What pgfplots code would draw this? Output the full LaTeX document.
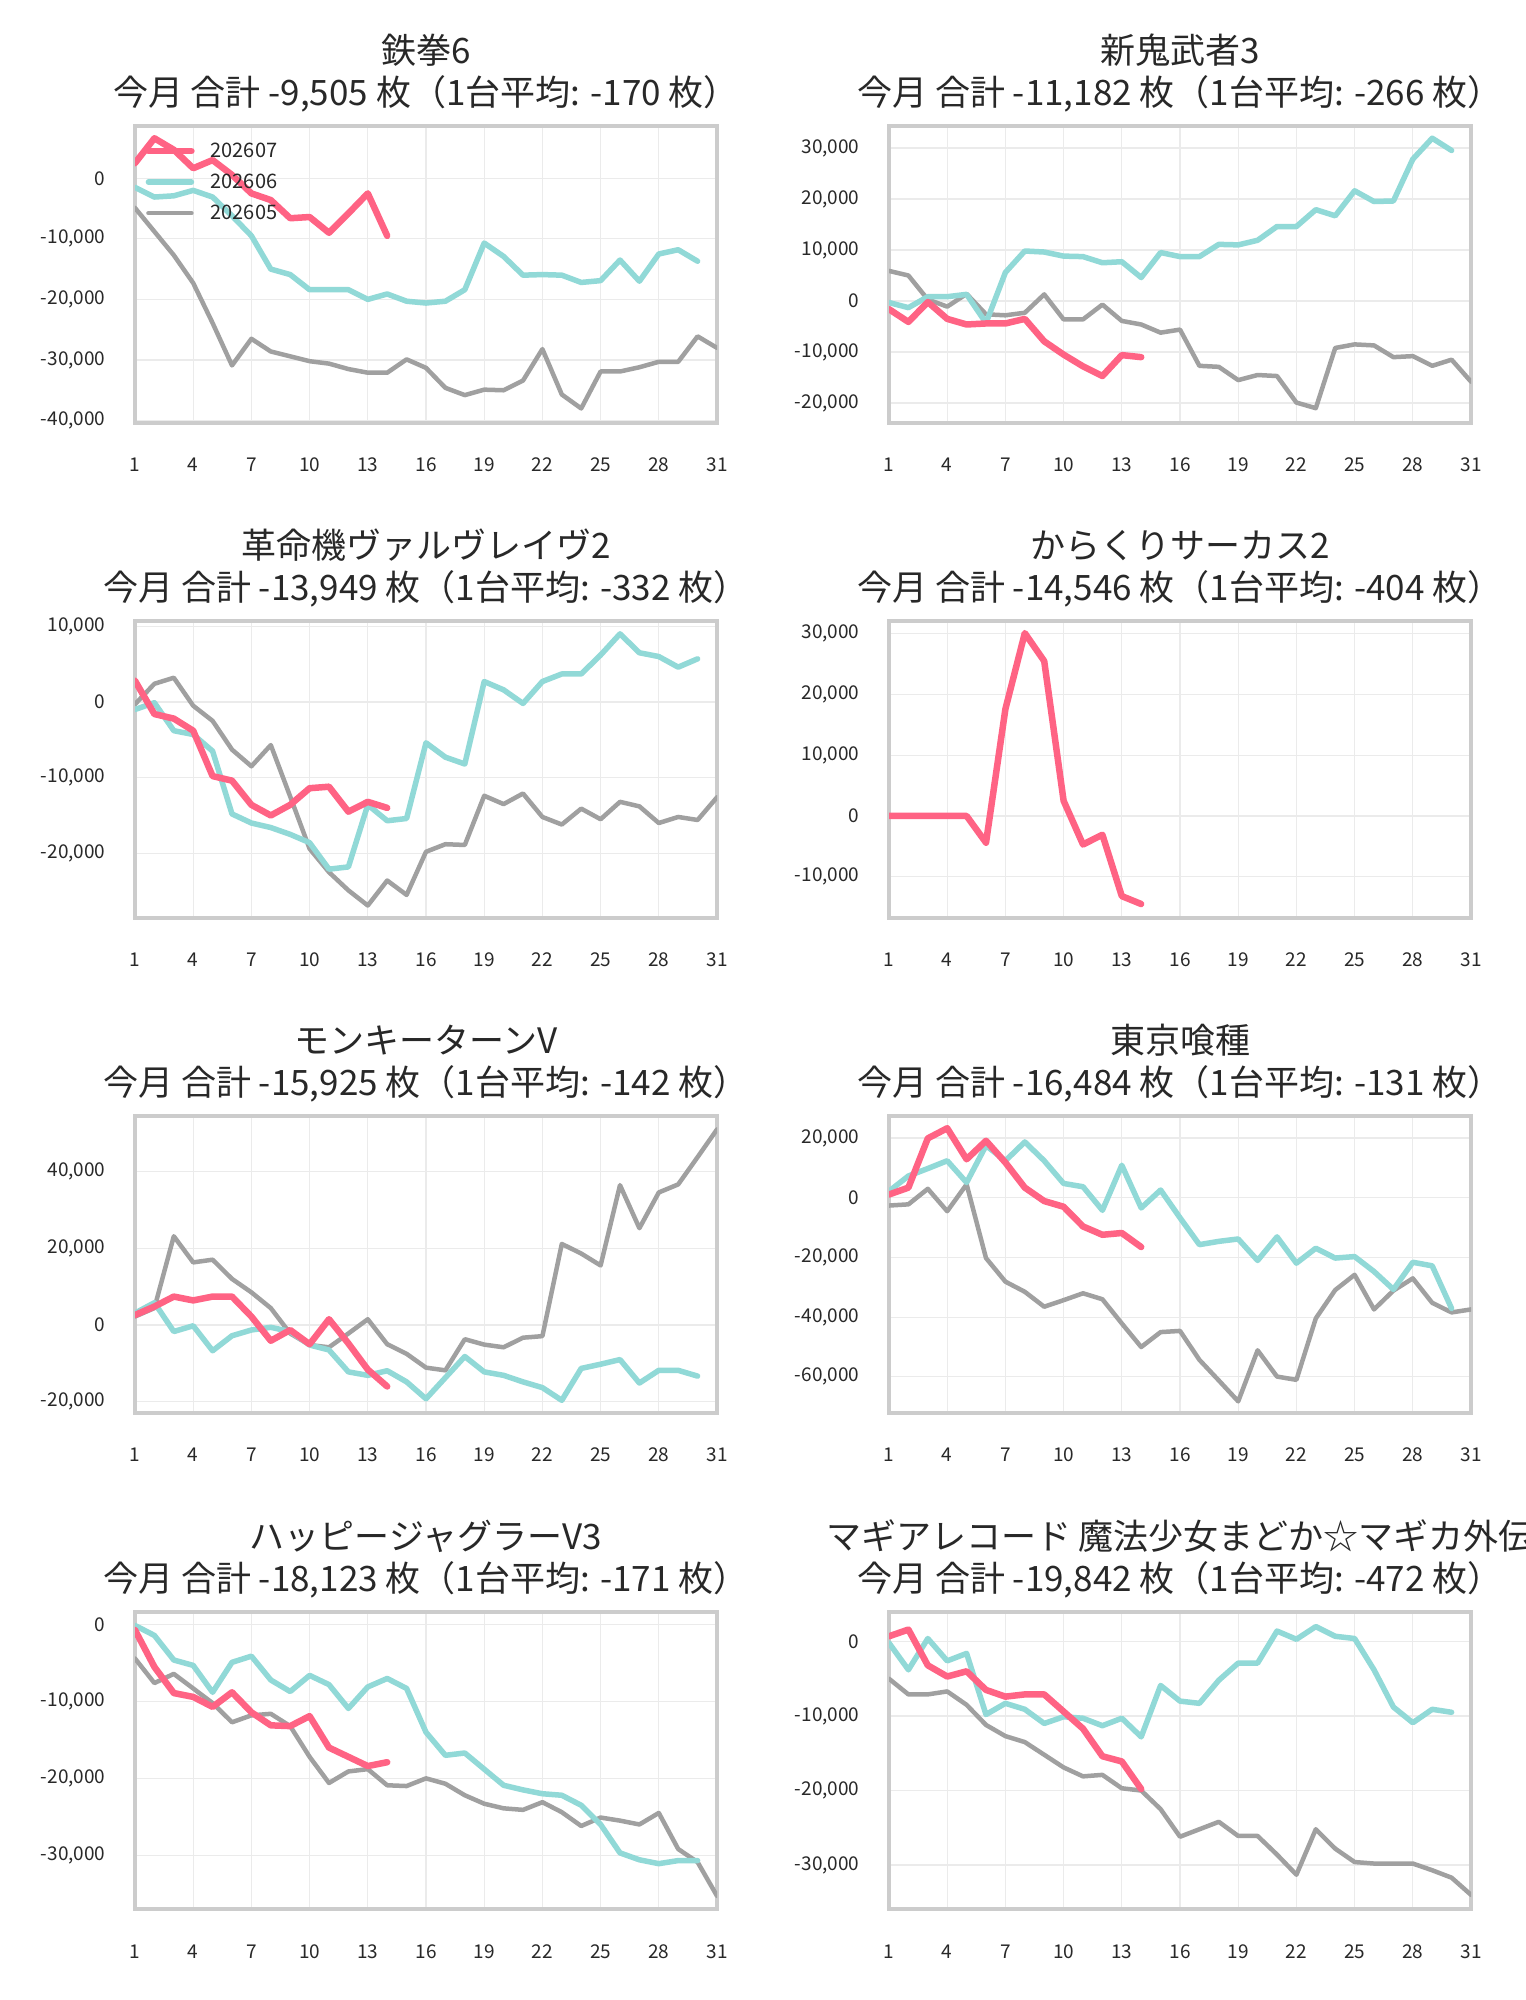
\documentclass[border=0pt]{standalone}
\usepackage{fontspec}
\setmainfont{Noto Sans CJK JP}
\usepackage{pgfplots}
\usepackage{pgfplotstable}
\pgfplotsset{compat=1.18}

\definecolor{cred}{RGB}{255,99,132}
\definecolor{cteal}{RGB}{145,217,215}
\definecolor{cgray}{RGB}{160,160,160}
\definecolor{ctext}{RGB}{40,40,40}

\newcommand\titlefont{\fontsize{35bp}{40bp}\selectfont}
\newcommand\tickfont{\fontsize{19bp}{23bp}\selectfont}
\newcommand\legfont{\fontsize{20bp}{24bp}\selectfont}

\pgfplotsset{
  s7/.style={cred, line width=6.5bp, line join=round, line cap=round},
  s6/.style={cteal, line width=5.5bp, line join=round, line cap=round},
  s5/.style={cgray, line width=4.5bp, line join=round, line cap=round},
  panel/.style={
    width=582bp, height=297bp, scale only axis,
    anchor=south west,
    xmin=1, xmax=31, xtick={1,4,...,31},
    grid=major, grid style={line width=1.2bp, draw=black!8},
    axis line style={line width=4bp, draw=black!20},
    major tick length=0pt,
    tick label style={font=\tickfont, text=ctext},
    /pgf/number format/assume math mode=true,
    /pgf/number format/1000 sep={,},
    scaled y ticks=false,
    yticklabel style={xshift=-26bp},
    xticklabel style={anchor=base, yshift=-49bp},
    clip mode=individual,
  },
}
\newcommand\ptitle[2]{%
  \node[anchor=base, font=\titlefont, text=ctext, yshift=62bp] at (rel axis cs:0.5,1) {#1};
  \node[anchor=base, font=\titlefont, text=ctext, yshift=20bp] at (rel axis cs:0.5,1) {#2};}

\pgfplotstableread{
d r t g
1 2500 -1500 -4900
2 6600 -3100 -8800
3 4700 -2900 -12700
4 1650 -2000 -17300
5 3000 -3100 -23900
6 550 -6200 -30900
7 -2500 -9500 -26500
8 -3600 -15000 -28600
9 -6600 -15900 -29400
10 -6400 -18400 -30200
11 -9000 -18400 -30600
12 -5800 -18400 -31500
13 -2500 -20000 -32100
14 -9500 -19100 -32100
15 nan -20300 -29900
16 nan -20600 -31300
17 nan -20300 -34600
18 nan -18400 -35800
19 nan -10700 -34900
20 nan -12900 -35000
21 nan -16000 -33400
22 nan -15900 -28200
23 nan -16000 -35700
24 nan -17200 -38000
25 nan -16900 -31900
26 nan -13500 -31900
27 nan -17000 -31200
28 nan -12500 -30300
29 nan -11800 -30300
30 nan -13700 -26100
31 nan nan -28000
}\tA

\pgfplotstableread{
d r t g
1 -1600 -300 5900
2 -4100 -1300 5000
3 -200 850 300
4 -3500 850 -1100
5 -4600 1300 1400
6 -4400 -4300 -2600
7 -4400 5600 -2800
8 -3500 9800 -2300
9 -7900 9600 1300
10 -10500 8800 -3600
11 -12800 8700 -3600
12 -14700 7500 -700
13 -10600 7700 -3900
14 -11000 4600 -4600
15 nan 9500 -6200
16 nan 8700 -5600
17 nan 8700 -12700
18 nan 11100 -12900
19 nan 11000 -15500
20 nan 11900 -14500
21 nan 14600 -14700
22 nan 14600 -19900
23 nan 17900 -21000
24 nan 16700 -9200
25 nan 21600 -8500
26 nan 19500 -8700
27 nan 19600 -11000
28 nan 27800 -10800
29 nan 31900 -12700
30 nan 29500 -11500
31 nan nan -15800
}\tB

\pgfplotstableread{
d r t g
1 2800 -1000 -300
2 -1600 -100 2400
3 -2200 -3800 3200
4 -3800 -4300 -500
5 -9800 -6500 -2500
6 -10400 -14800 -6300
7 -13600 -16000 -8500
8 -15000 -16600 -5700
9 -13600 -17500 -12500
10 -11400 -18600 -19400
11 -11200 -22100 -22500
12 -14500 -21800 -24900
13 -13200 -13600 -26900
14 -14000 -15700 -23600
15 nan -15400 -25500
16 nan -5400 -19800
17 nan -7300 -18800
18 nan -8200 -18900
19 nan 2700 -12400
20 nan 1600 -13500
21 nan -200 -12100
22 nan 2700 -15200
23 nan 3700 -16200
24 nan 3700 -14100
25 nan 6200 -15500
26 nan 9000 -13200
27 nan 6500 -13800
28 nan 6000 -16000
29 nan 4600 -15200
30 nan 5700 -15600
31 nan nan -12600
}\tC

\pgfplotstableread{
d r
1 0
2 0
3 0
4 0
5 0
6 -4400
7 17600
8 30100
9 25500
10 2500
11 -4700
12 -3100
13 -13200
14 -14500
}\tD

\pgfplotstableread{
d r t g
1 2600 3100 2200
2 4800 5800 4400
3 7400 -1700 23100
4 6400 -200 16300
5 7400 -6700 17000
6 7400 -2800 12000
7 2200 -1300 8500
8 -4100 -600 4400
9 -1300 -1700 -2200
10 -5000 -5200 -5200
11 1500 -6500 -5800
12 -4800 -12200 -2200
13 -11600 -13100 1500
14 -16000 -11900 -5000
15 nan -14800 -7500
16 nan -19200 -11100
17 nan -13700 -11800
18 nan -8200 -3700
19 nan -12200 -5100
20 nan -13100 -5800
21 nan -14800 -3300
22 nan -16300 -2900
23 nan -19600 21100
24 nan -11300 18600
25 nan -10200 15500
26 nan -9000 36400
27 nan -15100 25200
28 nan -11800 34500
29 nan -11800 36600
30 nan -13300 43700
31 nan nan 50900
}\tE

\pgfplotstableread{
d r t g
1 1100 2200 -2600
2 3400 7300 -2200
3 19900 9800 3000
4 23300 12400 -4500
5 12900 5100 4500
6 19100 17500 -20200
7 11800 12400 -28100
8 3400 18700 -31500
9 -1100 12400 -36500
10 -3000 4800 -34300
11 -9600 3700 -32000
12 -12400 -4200 -34000
13 -11800 10900 -42100
14 -16500 -3400 -50000
15 nan 2600 -45000
16 nan -6700 -44600
17 nan -15700 -54300
18 nan -14600 -61200
19 nan -13800 -68200
20 nan -21000 -51100
21 nan -13100 -59900
22 nan -21900 -61000
23 nan -16900 -40400
24 nan -20200 -30900
25 nan -19700 -25800
26 nan -24700 -37400
27 nan -30700 -31100
28 nan -21600 -27000
29 nan -22800 -35200
30 nan -37100 -38400
31 nan nan -37400
}\tF

\pgfplotstableread{
d r t g
1 -700 -100 -4400
2 -5500 -1400 -7600
3 -8900 -4600 -6400
4 -9400 -5300 -8300
5 -10700 -8800 -10200
6 -8800 -4900 -12700
7 -11400 -4100 -11800
8 -13100 -7200 -11600
9 -13200 -8700 -13200
10 -11900 -6600 -17200
11 -16000 -7800 -20600
12 -17200 -10900 -19100
13 -18400 -8100 -18800
14 -17900 -7000 -20900
15 nan -8300 -21000
16 nan -14000 -20000
17 nan -17000 -20700
18 nan -16700 -22200
19 nan -18800 -23300
20 nan -20900 -23900
21 nan -21500 -24100
22 nan -22000 -23100
23 nan -22200 -24400
24 nan -23500 -26200
25 nan -26000 -25100
26 nan -29700 -25500
27 nan -30600 -26000
28 nan -31100 -24500
29 nan -30700 -29200
30 nan -30700 -30900
31 nan nan -35300
}\tG

\pgfplotstableread{
d r t g
1 700 -200 -5000
2 1600 -3800 -7100
3 -3200 400 -7100
4 -4700 -2600 -6700
5 -4000 -1600 -8500
6 -6500 -9800 -11200
7 -7400 -8300 -12700
8 -7100 -9100 -13500
9 -7100 -11000 -15200
10 -9400 -10100 -16900
11 -11700 -10300 -18100
12 -15400 -11300 -17900
13 -16100 -10300 -19700
14 -19800 -12800 -20000
15 nan -5900 -22500
16 nan -8000 -26200
17 nan -8300 -25200
18 nan -5200 -24200
19 nan -2900 -26100
20 nan -2900 -26100
21 nan 1400 -28600
22 nan 300 -31300
23 nan 2000 -25200
24 nan 700 -27800
25 nan 400 -29600
26 nan -3800 -29800
27 nan -8800 -29800
28 nan -10900 -29800
29 nan -9100 -30700
30 nan -9500 -31700
31 nan nan -34000
}\tH

\begin{document}
\begin{tikzpicture}
\fill[white] (0,0) rectangle (1526bp,2000bp);
\useasboundingbox (0,0) rectangle (1526bp,2000bp);

% Row 1 left
\begin{axis}[panel, at={(135bp,1577bp)}, ymin=-40400, ymax=8630, ytick={-40000,-30000,...,0},
  legend style={at={(rel axis cs:0,1)}, anchor=north west, draw=none, fill=none,
    font=\legfont, text=ctext, xshift=10bp, yshift=-15bp, inner sep=0pt, row sep=11bp,
    /tikz/every odd column/.append style={column sep=14bp}},
  legend image code/.code={\draw[#1] (0bp,0bp) -- (43bp,0bp);}]
\addlegendimage{s7}\addlegendentry{202607}
\addlegendimage{s6}\addlegendentry{202606}
\addlegendimage{s5}\addlegendentry{202605}
\addplot[s5, forget plot] table[x=d,y=g]{\tA};
\addplot[s6, forget plot] table[x=d,y=t]{\tA};
\addplot[s7, forget plot] table[x=d,y=r]{\tA};
\ptitle{鉄拳6}{今月 合計 -9,505 枚（1台平均: -170 枚）}
\end{axis}

% Row 1 right
\begin{axis}[panel, at={(889bp,1577bp)}, ymin=-23900, ymax=34300, ytick={-20000,-10000,...,30000}]
\addplot[s5] table[x=d,y=g]{\tB};
\addplot[s6] table[x=d,y=t]{\tB};
\addplot[s7] table[x=d,y=r]{\tB};
\ptitle{新鬼武者3}{今月 合計 -11,182 枚（1台平均: -266 枚）}
\end{axis}

% Row 2 left
\begin{axis}[panel, at={(135bp,1082bp)}, ymin=-28550, ymax=10700, ytick={-20000,-10000,0,10000}]
\addplot[s5] table[x=d,y=g]{\tC};
\addplot[s6] table[x=d,y=t]{\tC};
\addplot[s7] table[x=d,y=r]{\tC};
\ptitle{革命機ヴァルヴレイヴ2}{今月 合計 -13,949 枚（1台平均: -332 枚）}
\end{axis}

% Row 2 right
\begin{axis}[panel, at={(889bp,1082bp)}, ymin=-16800, ymax=32100, ytick={-10000,0,10000,20000,30000}]
\addplot[s7] table[x=d,y=r]{\tD};
\ptitle{からくりサーカス2}{今月 合計 -14,546 枚（1台平均: -404 枚）}
\end{axis}

% Row 3 left
\begin{axis}[panel, at={(135bp,587bp)}, ymin=-22900, ymax=54400, ytick={-20000,0,20000,40000}]
\addplot[s5] table[x=d,y=g]{\tE};
\addplot[s6] table[x=d,y=t]{\tE};
\addplot[s7] table[x=d,y=r]{\tE};
\ptitle{モンキーターンV}{今月 合計 -15,925 枚（1台平均: -142 枚）}
\end{axis}

% Row 3 right
\begin{axis}[panel, at={(889bp,587bp)}, ymin=-72100, ymax=27400, ytick={-60000,-40000,-20000,0,20000}]
\addplot[s5] table[x=d,y=g]{\tF};
\addplot[s6] table[x=d,y=t]{\tF};
\addplot[s7] table[x=d,y=r]{\tF};
\ptitle{東京喰種}{今月 合計 -16,484 枚（1台平均: -131 枚）}
\end{axis}

% Row 4 left
\begin{axis}[panel, at={(135bp,91bp)}, ymin=-37000, ymax=1650, ytick={-30000,-20000,-10000,0}]
\addplot[s5] table[x=d,y=g]{\tG};
\addplot[s6] table[x=d,y=t]{\tG};
\addplot[s7] table[x=d,y=r]{\tG};
\ptitle{ハッピージャグラーV3}{今月 合計 -18,123 枚（1台平均: -171 枚）}
\end{axis}

% Row 4 right
\begin{axis}[panel, at={(889bp,91bp)}, ymin=-35900, ymax=3960, ytick={-30000,-20000,-10000,0}]
\addplot[s5] table[x=d,y=g]{\tH};
\addplot[s6] table[x=d,y=t]{\tH};
\addplot[s7] table[x=d,y=r]{\tH};
\ptitle{マギアレコード 魔法少女まどか☆マギカ外伝}{今月 合計 -19,842 枚（1台平均: -472 枚）}
\end{axis}
\end{tikzpicture}
\end{document}
